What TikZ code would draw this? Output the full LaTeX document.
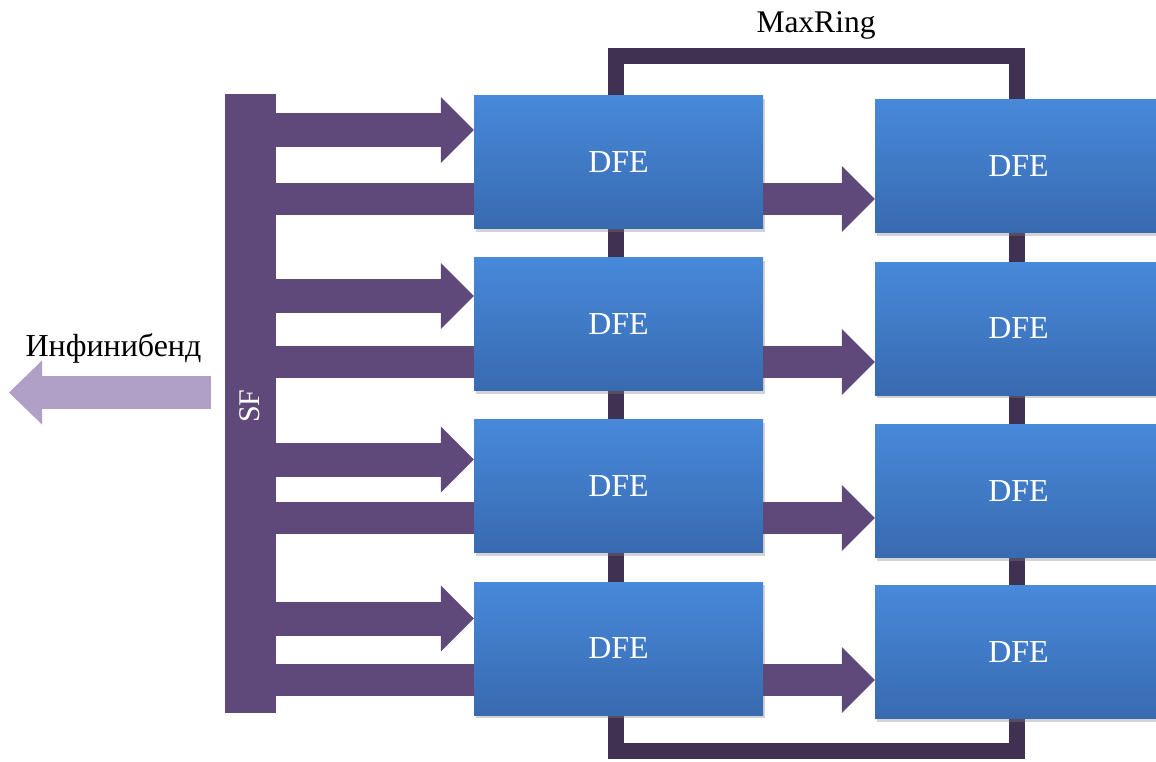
\documentclass[tikz,border=0pt]{standalone}
\usepackage{fontspec}
\setmainfont{Liberation Serif}
\usetikzlibrary{arrows.meta,shadows}
\definecolor{arrowc}{RGB}{95,73,122}
\definecolor{ringc}{RGB}{64,49,82}
\definecolor{lightc}{RGB}{176,160,200}
\definecolor{boxtop}{RGB}{72,137,218}
\definecolor{boxbot}{RGB}{56,106,176}
\tikzset{
  dfebox/.style={rectangle, inner sep=0pt, minimum height=133pt,
    top color=boxtop, bottom color=boxbot, text=white,
    font=\fontsize{32}{36}\selectfont,
    drop shadow={opacity=0.35, shadow xshift=2pt, shadow yshift=-3pt}},
  fatarrow/.style={draw=arrowc, line width=#1,
    -{Triangle[length=33pt,width=66pt,line width=0pt]}},
  fatbar/.style={draw=arrowc, line width=#1},
  ringline/.style={draw=ringc, line width=16pt, line join=miter},
  lbl/.style={font=\fontsize{31.5}{35}\selectfont, inner sep=0pt}
}
\begin{document}
\begin{tikzpicture}[x=1pt,y=-1pt]
\useasboundingbox (0,0) rectangle (1156,761);
% MaxRing
\coordinate (ringA) at (616,56);
\coordinate (ringB) at (1017,751);
\draw[ringline] (ringA) rectangle (ringB);
\node[lbl, anchor=base] (mr) at (816,32) {MaxRing};
% SF bar
\node[rectangle, fill=arrowc, minimum width=51pt, minimum height=619pt, inner sep=0pt] (SF) at (250.5,403.5) {};
\node[lbl, text=white, rotate=90, font=\fontsize{30}{34}\selectfont] (sft) at (250,406) {SF};
% Infiniband arrow
\coordinate (ibs) at (211,392.5);
\coordinate (ibt) at (9,392.5);
\draw[draw=lightc, line width=33pt, -{Triangle[length=33pt,width=64pt,line width=0pt]}] (ibs) -- (ibt);
\node[font=\fontsize{32}{36}\selectfont, inner sep=0pt, anchor=base] (ib) at (113.5,356) {Инфинибенд};
% rows
\foreach \i/\ly/\ry in {1/162/166, 2/324/328.5, 3/486/491, 4/648.5/652}{
  \node[dfebox, minimum width=289pt] (L\i) at (618.5,\ly) {DFE};
  \node[dfebox, minimum width=287pt] (R\i) at (1018.5,\ry) {DFE};
}
\foreach \i/\ta/\tb in {1/32/-37, 2/28/-38, 3/26.5/-32, 4/30/-31.5}{
  \draw[fatarrow=34pt] ([yshift=\ta pt]L\i.west -| SF.center) -- ([yshift=\ta pt]L\i.west);
  \draw[fatbar=32pt] ([yshift=\tb pt]L\i.west -| SF.center) -- ([yshift=\tb pt]L\i.west);
  \draw[fatarrow=32pt] ([yshift=\tb pt]L\i.east) -- ([yshift=\tb pt]L\i.east -| R\i.west);
}
\end{tikzpicture}
\end{document}
